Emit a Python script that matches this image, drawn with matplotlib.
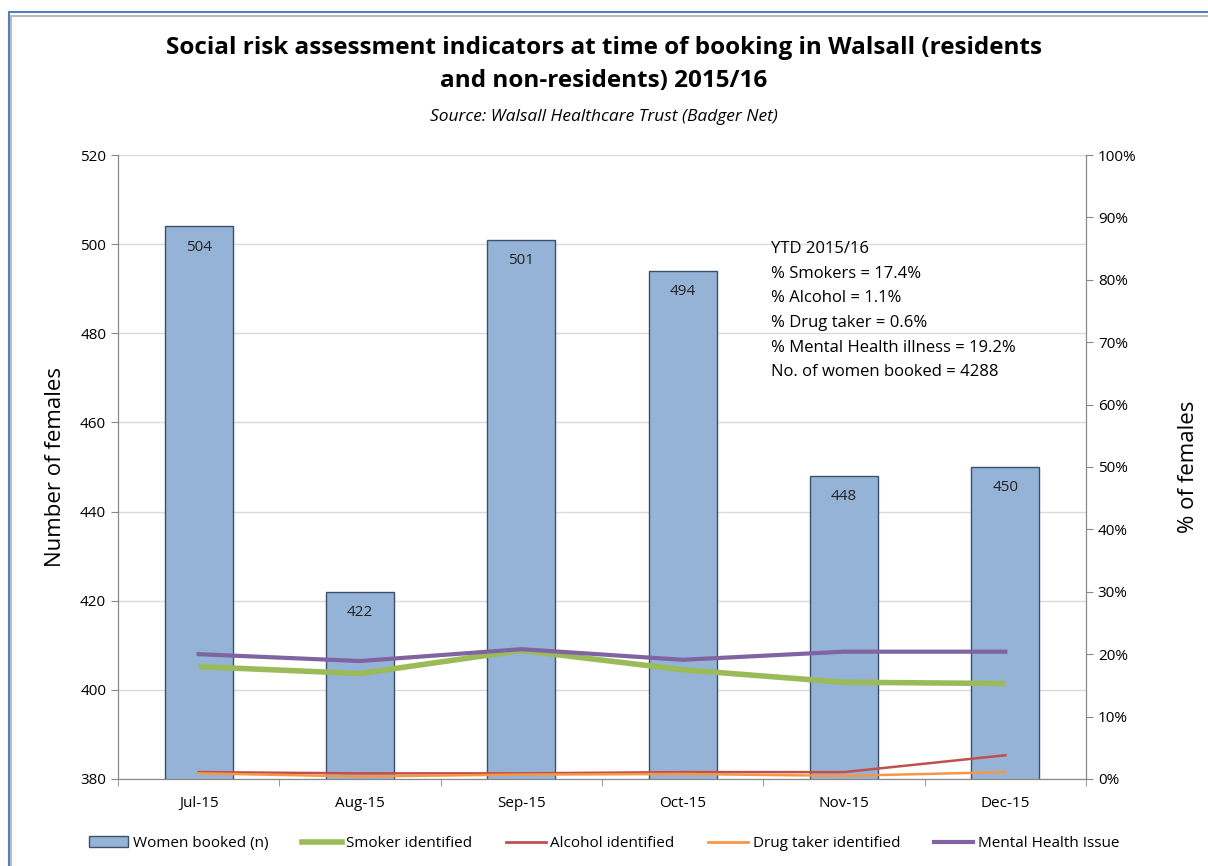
import matplotlib.pyplot as plt
from matplotlib.patches import Rectangle
from matplotlib.lines import Line2D

plt.rcParams['font.family'] = ['Open Sans', 'DejaVu Sans']

# %% data
months = ['Jul-15', 'Aug-15', 'Sep-15', 'Oct-15', 'Nov-15', 'Dec-15']
booked = [504, 422, 501, 494, 448, 450]
smoker = [18.0, 16.9, 20.6, 17.5, 15.5, 15.3]
alcohol = [1.1, 0.9, 0.9, 1.1, 1.1, 3.8]
drug = [0.9, 0.4, 0.7, 0.8, 0.5, 1.1]
mental = [20.0, 18.9, 20.8, 19.1, 20.4, 20.4]

ytd_text = ('YTD 2015/16\n% Smokers = 17.4%\n% Alcohol = 1.1%\n'
            '% Drug taker = 0.6%\n% Mental Health illness = 19.2%\n'
            'No. of women booked = 4288')

# %% plot
fig = plt.figure(figsize=(12.08, 8.66), dpi=100)
fig.patches.append(Rectangle((0.0075, -0.05), 1.1, 1.036, transform=fig.transFigure,
                             fill=False, edgecolor='#4F81BD', linewidth=1.5))
fig.patches.append(Rectangle((0.0095, -0.05), 1.1, 1.032, transform=fig.transFigure,
                             fill=False, edgecolor='#BBBBBB', linewidth=1.5))

ax = fig.add_axes([0.0977, 0.1005, 0.8013, 0.7205])
x = range(len(months))
bars = ax.bar(x, booked, width=0.42, color='#95B3D7', edgecolor='#3B4E6B',
              linewidth=1, zorder=2)
for xi, v in zip(x, booked):
    ax.text(xi, v - 3.0, str(v), ha='center', va='top', fontsize=11, color='#222222', zorder=5)

ax.set_ylim(380, 520)
ax.set_xlim(-0.5, 5.5)
ax.set_yticks(range(380, 521, 20))
ax.set_xticks(list(x))
ax.set_xticklabels(months, fontsize=11)
ax.set_xticks([i - 0.5 for i in range(7)], minor=True)
ax.tick_params(axis='x', which='major', length=0, pad=12)
ax.tick_params(axis='x', which='minor', length=5, color='#888888')
ax.tick_params(axis='y', labelsize=11, length=5, color='#888888')
ax.grid(axis='y', color='#D9D9D9', linewidth=1, zorder=0)
ax.set_axisbelow(True)
ax.spines['top'].set_visible(False)
for s in ['left', 'bottom', 'right']:
    ax.spines[s].set_color('#888888')
ax.set_ylabel('Number of females', fontsize=16, labelpad=10)

ax2 = ax.twinx()
ax2.plot(x, smoker, color='#9BBB59', linewidth=4, solid_capstyle='butt', zorder=3)
ax2.plot(x, alcohol, color='#C0504D', linewidth=1.8, zorder=3)
ax2.plot(x, drug, color='#F79646', linewidth=1.8, zorder=3)
ax2.plot(x, mental, color='#8064A2', linewidth=3, zorder=3)
ax2.set_ylim(0, 100)
ax2.set_yticks(range(0, 101, 10))
ax2.set_yticklabels([f'{v}%' for v in range(0, 101, 10)])
ax2.tick_params(axis='y', labelsize=11, length=5, color='#888888')
ax2.spines['top'].set_visible(False)
for s in ['left', 'bottom', 'right']:
    ax2.spines[s].set_color('#888888')
ax2.set_ylabel('% of females', fontsize=16, labelpad=30)

ax.text(0.675, 0.862, ytd_text, transform=ax.transAxes, ha='left', va='top',
        fontsize=12, linespacing=1.72)

fig.text(0.5, 0.9255, 'Social risk assessment indicators at time of booking in Walsall (residents\n'
         'and non-residents) 2015/16', ha='center', va='center', fontsize=17.5,
         fontweight='bold', linespacing=1.55)
fig.text(0.5, 0.865, 'Source: Walsall Healthcare Trust (Badger Net)', ha='center',
         va='center', fontsize=12.5, style='italic')

handles = [Rectangle((0, 0), 1, 1, facecolor='#95B3D7', edgecolor='#3B4E6B'),
           Line2D([], [], color='#9BBB59', linewidth=4),
           Line2D([], [], color='#C0504D', linewidth=2),
           Line2D([], [], color='#F79646', linewidth=2),
           Line2D([], [], color='#8064A2', linewidth=3)]
labels = ['Women booked (n)', 'Smoker identified', 'Alcohol identified',
          'Drug taker identified', 'Mental Health Issue']
fig.legend(handles, labels, loc='center', bbox_to_anchor=(0.5, 0.026), ncol=5,
           frameon=False, fontsize=11, handlelength=2.6, handletextpad=0.3,
           columnspacing=2.2)

plt.savefig('out.png', dpi=100)
